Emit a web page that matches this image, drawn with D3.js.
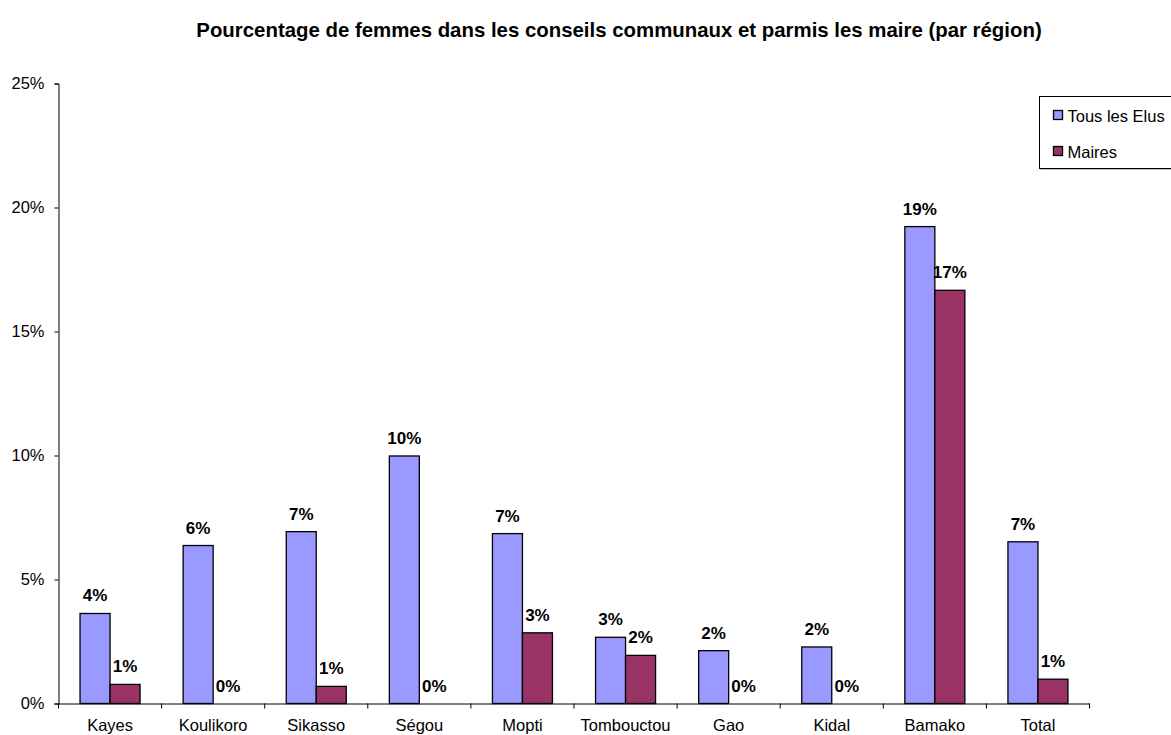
<!DOCTYPE html>
<html>
<head>
<meta charset="utf-8">
<script src="https://cdn.jsdelivr.net/npm/d3@7"></script>
<style>
  html, body { margin: 0; padding: 0; background: #fff; }
  svg { display: block; font-family: Arial, "Liberation Sans", sans-serif; }
</style>
</head>
<body>
<svg id="chart" width="1171" height="735"></svg>
<script>
// Regions and totals shown on the horizontal axis
const regions = ["Kayes", "Koulikoro", "Sikasso", "Ségou", "Mopti", "Tombouctou", "Gao", "Kidal", "Bamako", "Total"];
// Share of women among all elected councillors, per region
const tousLesElus = [0.0363, 0.0637, 0.0693, 0.0998, 0.0685, 0.0267, 0.0213, 0.0228, 0.1923, 0.0652];
// Share of women among mayors, per region
const maires = [0.0077, 0, 0.0069, 0, 0.0285, 0.0194, 0, 0, 0.1666, 0.0098];
const seriesNames = ["Tous les Elus", "Maires"];
const seriesColors = ["#9999FF", "#993366"];
const yTicks = [0, 0.05, 0.10, 0.15, 0.20, 0.25];
const titleText = "Pourcentage de femmes dans les conseils communaux et parmis les maire (par région)";

const svg = d3.select("#chart");
const plot = { left: 58.5, right: 1089.5, top: 83.5, bottom: 703.5 };

const x0 = d3.scaleBand().domain(regions).range([plot.left, plot.right]).paddingInner(0).paddingOuter(0);
const x1 = d3.scaleBand().domain(seriesNames).range([0, x0.bandwidth()]).paddingInner(0).paddingOuter(0.718);
const y = d3.scaleLinear().domain([0, 0.25]).range([plot.bottom, plot.top]);
const fmt = v => Math.round(v * 100) + "%";

// Title
svg.append("text")
  .attr("x", 619).attr("y", 37)
  .attr("text-anchor", "middle")
  .attr("font-weight", "bold")
  .attr("font-size", 20.4)
  .text(titleText);

// Bars grouped by region
const rows = regions.map((r, i) => ({ region: r, values: [tousLesElus[i], maires[i]] }));
const groups = svg.append("g").selectAll("g").data(rows).join("g")
  .attr("transform", d => `translate(${x0(d.region)},0)`);

groups.selectAll("rect")
  .data(d => d.values.map((v, k) => ({ key: seriesNames[k], k, v })))
  .join("rect")
  .filter(d => d.v > 0)
  .attr("x", d => x1(d.key))
  .attr("y", d => y(d.v))
  .attr("width", x1.bandwidth())
  .attr("height", d => y(0) - y(d.v))
  .attr("fill", d => seriesColors[d.k])
  .attr("stroke", "#000")
  .attr("stroke-width", 1.3);

// Value labels above each bar
groups.selectAll("text")
  .data(d => d.values.map((v, k) => ({ key: seriesNames[k], k, v })))
  .join("text")
  .attr("x", d => x1(d.key) + x1.bandwidth() / 2)
  .attr("y", d => y(d.v) - 12)
  .attr("text-anchor", "middle")
  .attr("font-weight", "bold")
  .attr("font-size", 17)
  .attr("fill", "#000")
  .text(d => fmt(d.v));

// Y axis
const yAxis = svg.append("g")
  .attr("transform", `translate(${plot.left},0)`)
  .call(d3.axisLeft(y).tickValues(yTicks).tickFormat(fmt).tickSize(4).tickPadding(10));
yAxis.select(".domain").attr("stroke", "#000");
yAxis.selectAll(".tick line").attr("stroke", "#000");
yAxis.selectAll("text").attr("font-size", 16.5).attr("font-family", "Arial, 'Liberation Sans', sans-serif").attr("fill", "#000");

// X axis: line with ticks at band boundaries
const xAxis = svg.append("g")
  .attr("transform", `translate(0,${plot.bottom})`)
  .call(d3.axisBottom(x0).tickSize(0).tickPadding(16));
xAxis.select(".domain").attr("stroke", "#000");
xAxis.selectAll("text").attr("font-size", 16.5).attr("font-family", "Arial, 'Liberation Sans', sans-serif").attr("fill", "#000");
const bounds = regions.map(r => x0(r)).concat([plot.right]);
xAxis.selectAll("line.bound").data(bounds).join("line")
  .attr("class", "bound")
  .attr("x1", d => d).attr("x2", d => d)
  .attr("y1", 0).attr("y2", 5)
  .attr("stroke", "#000");

// Legend
const legend = svg.append("g").attr("transform", "translate(1039.5,96.5)");
legend.append("rect")
  .attr("x", 1).attr("y", 1).attr("width", 150).attr("height", 72)
  .attr("fill", "#808080");
legend.append("rect")
  .attr("width", 150).attr("height", 72)
  .attr("fill", "#fff").attr("stroke", "#000").attr("stroke-width", 1);
seriesNames.forEach((name, i) => {
  const cy = 19 + i * 36;
  legend.append("rect")
    .attr("x", 14).attr("y", cy - 5).attr("width", 9).attr("height", 9)
    .attr("fill", seriesColors[i]).attr("stroke", "#000").attr("stroke-width", 1.3);
  legend.append("text")
    .attr("x", 28).attr("y", cy + 6)
    .attr("font-size", 16.5)
    .text(name);
});
</script>
</body>
</html>
